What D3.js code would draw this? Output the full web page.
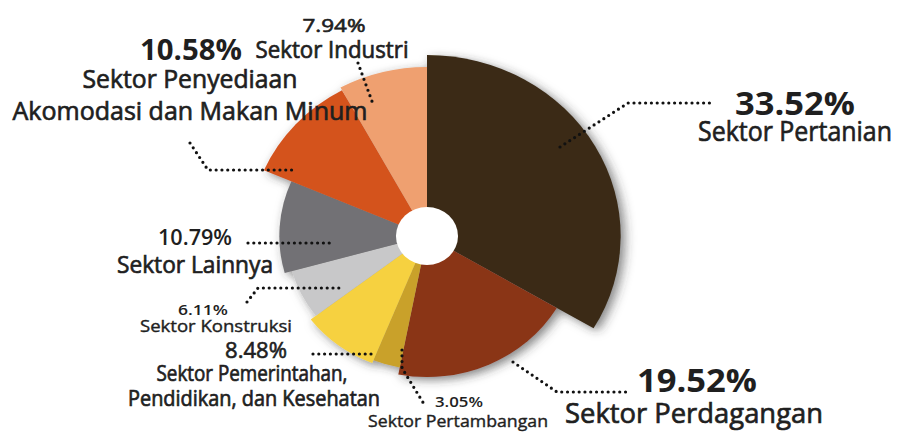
<!DOCTYPE html>
<html>
<head>
<meta charset="utf-8">
<script src="https://cdn.jsdelivr.net/npm/d3@7"></script>
<style>
  body { margin: 0; background: #fff; }
  svg { display: block; }
  text { font-family: "Open Sans", "DejaVu Sans", sans-serif; fill: #1f1f1f; }
</style>
</head>
<body>
<div id="chart"></div>
<script>
// data
const sectors = ["Sektor Pertanian", "Sektor Perdagangan", "Sektor Pertambangan",
  "Sektor Pemerintahan,|Pendidikan, dan Kesehatan", "Sektor Konstruksi", "Sektor Lainnya",
  "Sektor Penyediaan|Akomodasi dan Makan Minum", "Sektor Industri"];
const shares = [33.52, 19.52, 3.05, 8.48, 6.11, 10.79, 10.58, 7.94];

// styling
const colors = ["#3b2b13", "#8a3417", "#c9a12a", "#f6d13f", "#c8c8c9", "#727174", "#d4531f", "#efa06f"];
const outerRadii = [181, 141, 134, 137, 131, 138, 166, 169];

// label placement (percent line, name lines, dotted leader)
const labelLayout = [
  {pct: {x: 795, y: 115, s: 33, b: 700, w: 120}, name: [{x: 795, y: 141, s: 28, w: 194}],
   leader: [[560, 147], [628, 103], [712, 103]]},
  {pct: {x: 697, y: 392, s: 33, b: 700, w: 120}, name: [{x: 694, y: 423, s: 28, w: 258}],
   leader: [[513, 362], [557, 392], [628, 392]]},
  {pct: {x: 459, y: 407, s: 15, b: 600, w: 48}, name: [{x: 458, y: 427, s: 16.5, w: 180}],
   leader: [[402, 350], [402, 368], [424, 404]]},
  {pct: {x: 256, y: 358, s: 22, b: 400, w: 62}, name: [{x: 252, y: 381, s: 21.5, w: 191}, {x: 254, y: 406, s: 21.5, w: 252}],
   leader: [[313, 354], [372, 354]]},
  {pct: {x: 203, y: 315, s: 15, b: 600, w: 50}, name: [{x: 216, y: 332, s: 16.5, w: 152}],
   leader: [[247, 302], [258, 288], [340, 288]]},
  {pct: {x: 195, y: 245, s: 21, b: 600, w: 74}, name: [{x: 195, y: 273, s: 24, w: 156}],
   leader: [[248, 243], [330, 243]]},
  {pct: {x: 191, y: 60, s: 29, b: 700, w: 102}, name: [{x: 190, y: 88, s: 26, w: 215}, {x: 190, y: 120, s: 26, w: 355}],
   leader: [[190, 143], [208, 170], [295, 170]]},
  {pct: {x: 334, y: 32, s: 18, b: 400, w: 63}, name: [{x: 332, y: 58, s: 23, w: 153}],
   leader: [[358, 63], [373, 104]]}
];

const width = 903, height = 432;
const cx = 427, cy = 236, holeR = 29;

const svg = d3.select("#chart").append("svg")
  .attr("width", width)
  .attr("height", height);

const defs = svg.append("defs");
const shadow = defs.append("filter")
  .attr("id", "soft")
  .attr("x", "-20%").attr("y", "-20%")
  .attr("width", "140%").attr("height", "140%");
shadow.append("feDropShadow")
  .attr("dx", 4).attr("dy", 3)
  .attr("stdDeviation", 5)
  .attr("flood-color", "#333")
  .attr("flood-opacity", 0.6);

const data = shares.map((v, i) => ({name: sectors[i], value: v, color: colors[i], r: outerRadii[i]}));

const pie = d3.pie().sort(null).value(d => d.value);
const arc = d3.arc().innerRadius(0).outerRadius(d => d.data.r);

const g = svg.append("g")
  .attr("transform", `translate(${cx},${cy}) scale(1.07,1)`);

g.append("g")
  .attr("filter", "url(#soft)")
  .selectAll("path")
  .data(pie(data))
  .join("path")
    .attr("d", arc)
    .attr("fill", d => d.data.color);

g.append("circle")
  .attr("r", holeR)
  .attr("fill", "#fff");

// dotted leaders
const line = d3.line();
svg.append("g")
  .selectAll("path")
  .data(labelLayout)
  .join("path")
    .attr("d", d => line(d.leader))
    .attr("fill", "none")
    .attr("stroke", "#111")
    .attr("stroke-width", 3.2)
    .attr("stroke-linecap", "round")
    .attr("stroke-dasharray", "0 5.8");

// labels (thin stroke to thicken the regular weight a bit)
const fmt = d3.format(".2f");
const labels = svg.append("g");
labelLayout.forEach((L, i) => {
  labels.append("text")
    .attr("x", L.pct.x).attr("y", L.pct.y)
    .attr("text-anchor", "middle")
    .attr("font-size", L.pct.s)
    .attr("font-weight", L.pct.b)
    .attr("stroke", L.pct.b < 600 ? "#1f1f1f" : "none")
    .attr("stroke-width", 0.6)
    .attr("textLength", L.pct.w)
    .attr("lengthAdjust", "spacingAndGlyphs")
    .text(fmt(shares[i]) + "%");
  sectors[i].split("|").forEach((t, j) => {
    const n = L.name[j];
    labels.append("text")
      .attr("x", n.x).attr("y", n.y)
      .attr("text-anchor", "middle")
      .attr("font-size", n.s)
      .attr("stroke", "#1f1f1f")
      .attr("stroke-width", n.s > 20 ? 0.7 : 0.4)
      .attr("textLength", n.w)
      .attr("lengthAdjust", "spacingAndGlyphs")
      .text(t);
  });
});
</script>
</body>
</html>
